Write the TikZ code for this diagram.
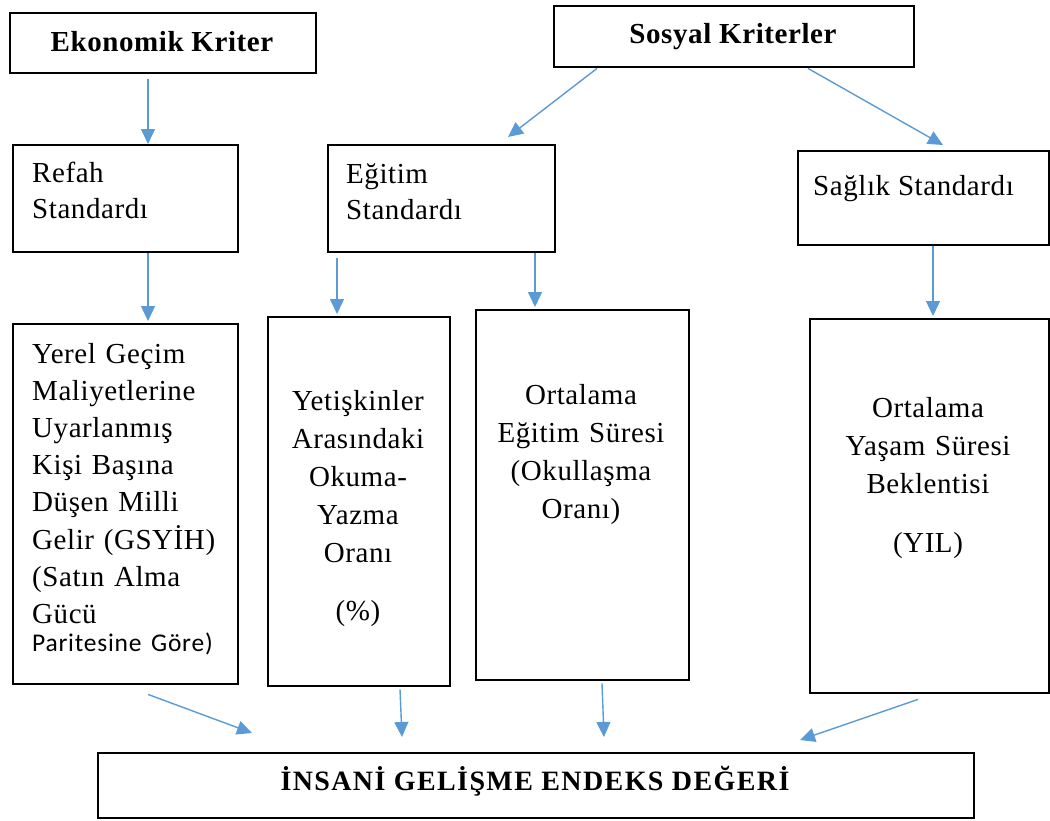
\documentclass[tikz,border=0pt]{standalone}
\usepackage{fontspec}
\setmainfont{Liberation Serif}
\newfontfamily\bodyfont{Liberation Serif}[LetterSpace=2]
\newfontfamily\headfont{Liberation Serif}[LetterSpace=2]
\newfontfamily\calfont{Carlito}[LetterSpace=3]
\newfontfamily\hdifont{Liberation Serif}[LetterSpace=5]
\usetikzlibrary{arrows.meta,calc}
\definecolor{arrowblue}{RGB}{91,155,213}
\begin{document}
\begin{tikzpicture}[x=1pt,y=-1pt,
  box/.style={draw=black, line width=2.4pt, inner sep=0pt, anchor=north west},
  arr/.style={draw=arrowblue, line width=1.4pt, -{Triangle[length=15pt,width=14pt]}},
  txt/.style={inner sep=0pt, font=\bodyfont\fontsize{29}{37.5}\selectfont},
  head/.style={inner sep=0pt, font=\headfont\bfseries\fontsize{29}{34}\selectfont, anchor=base},
  leftblock/.style={txt, anchor=base west, align=left},
  midblock/.style={txt, anchor=base, align=center}]
\useasboundingbox (0,0) rectangle (1050,820);

% boxes
\node[box, minimum width=306, minimum height=60]  (ek)   at (9,12)    {};
\node[box, minimum width=360, minimum height=61]  (sos)  at (553,5)   {};
\node[box, minimum width=225, minimum height=107] (ref)  at (12,144)  {};
\node[box, minimum width=227, minimum height=107] (edu)  at (327,144) {};
\node[box, minimum width=251, minimum height=94]  (hlt)  at (797,150) {};
\node[box, minimum width=225, minimum height=360] (yer)  at (12,323)  {};
\node[box, minimum width=182, minimum height=369] (lit)  at (267,316) {};
\node[box, minimum width=213, minimum height=370] (sch)  at (475,309) {};
\node[box, minimum width=239, minimum height=374] (life) at (809,318) {};
\node[box, minimum width=876, minimum height=65]  (hdi)  at (97,752)  {};

% texts
\node[head] (ek-t)  at (162,51) {Ekonomik Kriter};
\node[head] (sos-t) at (733,43) {Sosyal Kriterler};
\node[leftblock, text width=200, font=\bodyfont\fontsize{29}{36}\selectfont] (ref-t) at (32,182) {Refah\\Standardı};
\node[leftblock, text width=200, font=\bodyfont\fontsize{29}{36}\selectfont] (edu-t) at (346,183) {Eğitim\\Standardı};
\node[txt, anchor=base west] (hlt-t) at (813,195) {Sağlık Standardı};
\node[leftblock, text width=205, font=\bodyfont\fontsize{29}{37.2}\selectfont] (yer-t) at (32,363)
  {Yerel Geçim\\Maliyetlerine\\Uyarlanmış\\Kişi Başına\\Düşen Milli\\Gelir (GSYİH)\\(Satın Alma\\Gücü\\[-9pt]{\calfont\fontsize{25.5}{28}\selectfont Paritesine Göre)}};
\node[midblock, text width=175, font=\bodyfont\fontsize{29}{38}\selectfont] (lit-t) at (358,410)
  {Yetişkinler\\Arasındaki\\Okuma-\\Yazma\\Oranı\\[20pt](\%)};
\node[midblock, text width=205, font=\bodyfont\fontsize{29}{38}\selectfont] (sch-t) at (581,404)
  {Ortalama\\Eğitim Süresi\\(Okullaşma\\Oranı)};
\node[midblock, text width=230, font=\bodyfont\fontsize{29}{38}\selectfont] (life-t) at (928,417)
  {Ortalama\\Yaşam Süresi\\Beklentisi\\[21pt](YIL)};
\node[inner sep=0pt, anchor=base, font=\hdifont\bfseries\fontsize{28}{30}\selectfont] (hdi-t) at (535,790)
  {İNSANİ GELİŞME ENDEKS DEĞERİ};

% connectors
\draw[arr] ($(ek.south -| 148,0)+(0,5)$) -- (ref.north -| 148,0);
\draw[arr] (sos.south -| 597,0) -- ($(edu.north -| 508,0)+(0,-7)$);
\draw[arr] (sos.south -| 808,0) -- ($(hlt.north -| 943,0)+(0,-5)$);
\draw[arr] (ref.south -| 148,0) -- ($(yer.north -| 148,0)+(0,-2)$);
\draw[arr] ($(edu.south -| 337,0)+(0,5)$) -- ($(lit.north -| 337,0)+(0,-2)$);
\draw[arr] (edu.south -| 535,0) -- ($(sch.north -| 535,0)+(0,-2)$);
\draw[arr] (hlt.south -| 933,0) -- ($(life.north -| 933,0)+(0,-2)$);
\draw[arr] ($(yer.south -| 148,0)+(0,9)$) -- ($(hdi.north -| 252,0)+(0,-19)$);
\draw[arr] ($(lit.south -| 400,0)+(0,2)$) -- ($(hdi.north -| 402,0)+(0,-15)$);
\draw[arr] ($(sch.south -| 602,0)+(0,2)$) -- ($(hdi.north -| 604,0)+(0,-15)$);
\draw[arr] ($(life.south -| 918,0)+(0,5)$) -- ($(hdi.north -| 800,0)+(0,-12)$);
\end{tikzpicture}
\end{document}
